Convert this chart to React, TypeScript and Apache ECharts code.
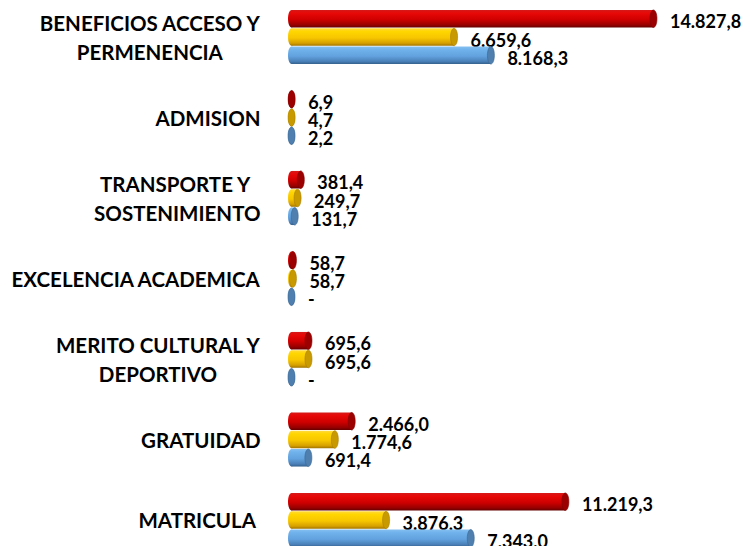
import React, { useEffect, useRef } from "react";
import * as echarts from "echarts";

const categories = [
  "BENEFICIOS ACCESO Y\nPERMENENCIA",
  "ADMISION",
  "TRANSPORTE Y \nSOSTENIMIENTO",
  "EXCELENCIA ACADEMICA",
  "MERITO CULTURAL Y\nDEPORTIVO",
  "GRATUIDAD",
  "MATRICULA ",
];

const redValues = [14827.8, 6.9, 381.4, 58.7, 695.6, 2466.0, 11219.3];
const yellowValues = [6659.6, 4.7, 249.7, 58.7, 695.6, 1774.6, 3876.3];
const blueValues = [8168.3, 2.2, 131.7, 0, 0, 691.4, 7343.0];

const redLabels = ["14.827,8", "6,9", "381,4", "58,7", "695,6", "2.466,0", "11.219,3"];
const yellowLabels = ["6.659,6", "4,7", "249,7", "58,7", "695,6", "1.774,6", "3.876,3"];
const blueLabels = ["8.168,3", "2,2", "131,7", "-", "-", "691,4", "7.343.0"];

const palettes = [
  {
    body: [
      [0, "#d41a1a"],
      [0.18, "#e80808"],
      [0.55, "#cf0000"],
      [0.85, "#980000"],
      [1, "#660000"],
    ],
    cap: "#9c0000",
    capEdge: "#7a0000",
  },
  {
    body: [
      [0, "#ffd940"],
      [0.18, "#ffd600"],
      [0.55, "#f7c600"],
      [0.85, "#d6a000"],
      [1, "#a07400"],
    ],
    cap: "#c99a00",
    capEdge: "#a57c00",
  },
  {
    body: [
      [0, "#85bff0"],
      [0.18, "#70b2ec"],
      [0.55, "#62a2de"],
      [0.85, "#4a80b8"],
      [1, "#33608c"],
    ],
    cap: "#4f7fae",
    capEdge: "#3c6690",
  },
];

const FONT = "Lato, 'Open Sans', sans-serif";

function makeSeries(idx: number, name: string, values: number[], labels: string[]) {
  const pal = palettes[idx];
  const grad = () =>
    new echarts.graphic.LinearGradient(
      0,
      0,
      0,
      1,
      pal.body.map(([o, c]) => ({ offset: o as number, color: c as string }))
    );
  return {
    type: "custom",
    name,
    data: values.map((v, i) => [v, i]),
    encode: { x: 0, y: 1 },
    renderItem: (params: any, api: any) => {
      const v = api.value(0);
      const cat = api.value(1);
      const p0 = api.coord([0, cat]);
      const p1 = api.coord([v, cat]);
      const band = api.size([0, 1])[1];
      const h = band * 0.218;
      const pitch = band * 0.227;
      const yc = p0[1] + (idx - 1) * pitch;
      const x0 = p0[0];
      const x1 = p1[0];
      const rx = 3.5;
      const label = labels[params.dataIndex];
      return {
        type: "group",
        children: [
          {
            type: "ellipse",
            shape: { cx: x0, cy: yc, rx, ry: h / 2 },
            style: { fill: grad() },
          },
          {
            type: "rect",
            shape: { x: x0, y: yc - h / 2, width: Math.max(x1 - x0, 0), height: h },
            style: { fill: grad() },
          },
          {
            type: "ellipse",
            shape: { cx: x1, cy: yc, rx, ry: h / 2 },
            style: { fill: pal.cap, stroke: pal.capEdge, lineWidth: 0.6 },
          },
          {
            type: "text",
            x: x1 + rx + 13,
            y: yc + 2.5,
            style: {
              text: label,
              fill: "#000",
              font: `bold 18px ${FONT}`,
              lineHeight: 14,
              textAlign: "left",
              textVerticalAlign: "middle",
            },
          },
        ],
      };
    },
  };
}

export default function App() {
  const ref = useRef<HTMLDivElement>(null);
  useEffect(() => {
    if (!ref.current) return;
    const chart = echarts.init(ref.current, undefined, { renderer: "svg" });
    chart.setOption({
      animation: false,
      backgroundColor: "#ffffff",
      grid: {
        left: 291.5,
        width: 439.4,
        top: -3.25,
        height: 563.5,
        containLabel: false,
        outerBoundsMode: "none",
      },
      xAxis: {
        type: "value",
        min: 0,
        max: 18000,
        show: false,
        splitLine: { show: false },
      },
      yAxis: {
        type: "category",
        data: categories,
        inverse: true,
        axisLine: { show: false },
        axisTick: { show: false },
        axisLabel: {
          margin: 31,
          align: "right",
          formatter: (val: string) =>
            val
              .split("\n")
              .map((l) => `{a|${l}}`)
              .join("\n"),
          rich: {
            a: {
              align: "center",
              fontFamily: FONT,
              fontWeight: "bold",
              fontSize: 20.5,
              lineHeight: 29,
              color: "#000",
            },
          },
        },
      },
      series: [
        makeSeries(0, "Rojo", redValues, redLabels),
        makeSeries(1, "Amarillo", yellowValues, yellowLabels),
        makeSeries(2, "Azul", blueValues, blueLabels),
      ],
    });
    return () => chart.dispose();
  }, []);
  return (
    <div
      ref={ref}
      style={{ position: "fixed", left: 0, top: 0, width: 750, height: 546 }}
    />
  );
}
